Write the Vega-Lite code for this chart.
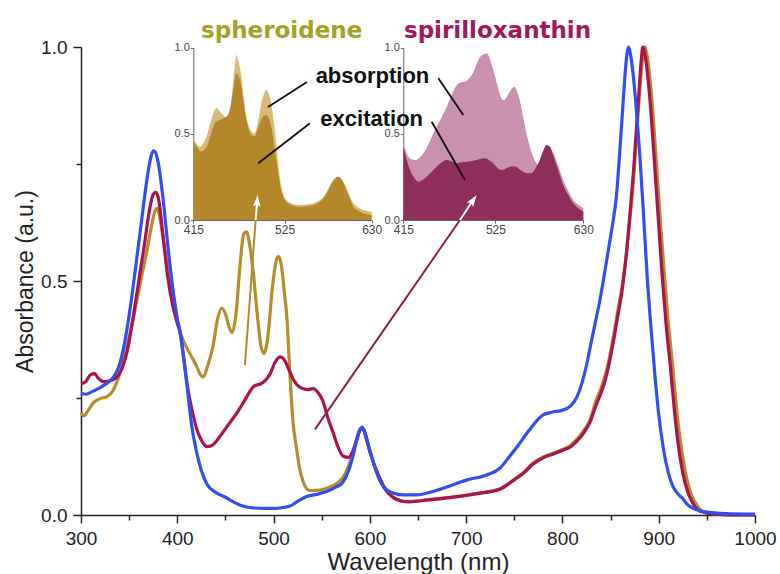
{
  "$schema": "https://vega.github.io/schema/vega-lite/v6.json",
  "width": 674,
  "height": 468,
  "autosize": {"type": "none"},
  "padding": {"left": 81, "top": 47, "right": 25, "bottom": 59},
  "background": "white",
  "config": {
    "view": {"stroke": null},
    "axis": {"labelFont": "Liberation Sans", "titleFont": "Liberation Sans", "titleFontWeight": "normal", "grid": false}
  },
  "datasets": {
    "spectra": [
      {"s":"spheroidene","wl":300,"a":0.22},{"s":"spheroidene","wl":303,"a":0.212},{"s":"spheroidene","wl":307,"a":0.222},{"s":"spheroidene","wl":312,"a":0.238},{"s":"spheroidene","wl":316,"a":0.245},{"s":"spheroidene","wl":322,"a":0.25},{"s":"spheroidene","wl":327,"a":0.253},{"s":"spheroidene","wl":333,"a":0.265},{"s":"spheroidene","wl":340,"a":0.3},{"s":"spheroidene","wl":347,"a":0.355},{"s":"spheroidene","wl":354,"a":0.417},{"s":"spheroidene","wl":361,"a":0.49},{"s":"spheroidene","wl":368,"a":0.56},{"s":"spheroidene","wl":373,"a":0.615},{"s":"spheroidene","wl":377,"a":0.65},{"s":"spheroidene","wl":379,"a":0.655},{"s":"spheroidene","wl":382,"a":0.635},{"s":"spheroidene","wl":385,"a":0.595},{"s":"spheroidene","wl":389,"a":0.545},{"s":"spheroidene","wl":392,"a":0.502},{"s":"spheroidene","wl":397,"a":0.44},{"s":"spheroidene","wl":403,"a":0.39},{"s":"spheroidene","wl":408,"a":0.365},{"s":"spheroidene","wl":413,"a":0.345},{"s":"spheroidene","wl":420,"a":0.318},{"s":"spheroidene","wl":424,"a":0.3},{"s":"spheroidene","wl":427,"a":0.295},{"s":"spheroidene","wl":431,"a":0.315},{"s":"spheroidene","wl":437,"a":0.36},{"s":"spheroidene","wl":442,"a":0.42},{"s":"spheroidene","wl":446,"a":0.442},{"s":"spheroidene","wl":450,"a":0.43},{"s":"spheroidene","wl":454,"a":0.4},{"s":"spheroidene","wl":457,"a":0.39},{"s":"spheroidene","wl":461,"a":0.43},{"s":"spheroidene","wl":465,"a":0.53},{"s":"spheroidene","wl":469,"a":0.6},{"s":"spheroidene","wl":472,"a":0.605},{"s":"spheroidene","wl":475,"a":0.58},{"s":"spheroidene","wl":479,"a":0.517},{"s":"spheroidene","wl":483,"a":0.43},{"s":"spheroidene","wl":487,"a":0.36},{"s":"spheroidene","wl":490,"a":0.345},{"s":"spheroidene","wl":494,"a":0.38},{"s":"spheroidene","wl":499,"a":0.49},{"s":"spheroidene","wl":503,"a":0.545},{"s":"spheroidene","wl":505,"a":0.552},{"s":"spheroidene","wl":508,"a":0.535},{"s":"spheroidene","wl":511,"a":0.48},{"s":"spheroidene","wl":514,"a":0.417},{"s":"spheroidene","wl":517,"a":0.3},{"s":"spheroidene","wl":520,"a":0.203},{"s":"spheroidene","wl":524,"a":0.14},{"s":"spheroidene","wl":527,"a":0.1},{"s":"spheroidene","wl":531,"a":0.07},{"s":"spheroidene","wl":535,"a":0.055},{"s":"spheroidene","wl":540,"a":0.052},{"s":"spheroidene","wl":548,"a":0.053},{"s":"spheroidene","wl":556,"a":0.058},{"s":"spheroidene","wl":566,"a":0.068},{"s":"spheroidene","wl":572,"a":0.08},{"s":"spheroidene","wl":578,"a":0.105},{"s":"spheroidene","wl":584,"a":0.145},{"s":"spheroidene","wl":589,"a":0.18},{"s":"spheroidene","wl":592,"a":0.186},{"s":"spheroidene","wl":595,"a":0.175},{"s":"spheroidene","wl":599,"a":0.145},{"s":"spheroidene","wl":604,"a":0.11},{"s":"spheroidene","wl":610,"a":0.08},{"s":"spheroidene","wl":615,"a":0.06},{"s":"spheroidene","wl":620,"a":0.046},{"s":"spheroidene","wl":625,"a":0.037},{"s":"spheroidene","wl":632,"a":0.031},{"s":"spheroidene","wl":641,"a":0.029},{"s":"spheroidene","wl":660,"a":0.033},{"s":"spheroidene","wl":683,"a":0.038},{"s":"spheroidene","wl":710,"a":0.046},{"s":"spheroidene","wl":735,"a":0.056},{"s":"spheroidene","wl":750,"a":0.076},{"s":"spheroidene","wl":760,"a":0.092},{"s":"spheroidene","wl":769,"a":0.11},{"s":"spheroidene","wl":780,"a":0.124},{"s":"spheroidene","wl":790,"a":0.132},{"s":"spheroidene","wl":800,"a":0.14},{"s":"spheroidene","wl":808,"a":0.148},{"s":"spheroidene","wl":815,"a":0.162},{"s":"spheroidene","wl":822,"a":0.18},{"s":"spheroidene","wl":829,"a":0.205},{"s":"spheroidene","wl":835,"a":0.245},{"s":"spheroidene","wl":840,"a":0.27},{"s":"spheroidene","wl":846,"a":0.31},{"s":"spheroidene","wl":852,"a":0.37},{"s":"spheroidene","wl":857,"a":0.43},{"s":"spheroidene","wl":862,"a":0.49},{"s":"spheroidene","wl":866,"a":0.55},{"s":"spheroidene","wl":870,"a":0.63},{"s":"spheroidene","wl":874,"a":0.72},{"s":"spheroidene","wl":877,"a":0.81},{"s":"spheroidene","wl":880,"a":0.9},{"s":"spheroidene","wl":882,"a":0.95},{"s":"spheroidene","wl":884,"a":0.99},{"s":"spheroidene","wl":885.5,"a":1.0},{"s":"spheroidene","wl":888,"a":0.98},{"s":"spheroidene","wl":891,"a":0.93},{"s":"spheroidene","wl":894,"a":0.86},{"s":"spheroidene","wl":898,"a":0.74},{"s":"spheroidene","wl":902,"a":0.62},{"s":"spheroidene","wl":906,"a":0.51},{"s":"spheroidene","wl":910,"a":0.41},{"s":"spheroidene","wl":914,"a":0.33},{"s":"spheroidene","wl":918,"a":0.24},{"s":"spheroidene","wl":922,"a":0.165},{"s":"spheroidene","wl":927,"a":0.1},{"s":"spheroidene","wl":932,"a":0.055},{"s":"spheroidene","wl":937,"a":0.03},{"s":"spheroidene","wl":942,"a":0.014},{"s":"spheroidene","wl":950,"a":0.005},{"s":"spheroidene","wl":970,"a":0.001},{"s":"spheroidene","wl":1000,"a":0.0},
      {"s":"spirilloxanthin","wl":300,"a":0.28},{"s":"spirilloxanthin","wl":305,"a":0.285},{"s":"spirilloxanthin","wl":310,"a":0.3},{"s":"spirilloxanthin","wl":314,"a":0.302},{"s":"spirilloxanthin","wl":318,"a":0.292},{"s":"spirilloxanthin","wl":323,"a":0.285},{"s":"spirilloxanthin","wl":330,"a":0.287},{"s":"spirilloxanthin","wl":336,"a":0.292},{"s":"spirilloxanthin","wl":342,"a":0.31},{"s":"spirilloxanthin","wl":348,"a":0.35},{"s":"spirilloxanthin","wl":354,"a":0.42},{"s":"spirilloxanthin","wl":360,"a":0.5},{"s":"spirilloxanthin","wl":366,"a":0.58},{"s":"spirilloxanthin","wl":371,"a":0.65},{"s":"spirilloxanthin","wl":375,"a":0.685},{"s":"spirilloxanthin","wl":378,"a":0.69},{"s":"spirilloxanthin","wl":381,"a":0.67},{"s":"spirilloxanthin","wl":385,"a":0.6},{"s":"spirilloxanthin","wl":390,"a":0.51},{"s":"spirilloxanthin","wl":395,"a":0.45},{"s":"spirilloxanthin","wl":400,"a":0.41},{"s":"spirilloxanthin","wl":403,"a":0.389},{"s":"spirilloxanthin","wl":407,"a":0.33},{"s":"spirilloxanthin","wl":411,"a":0.27},{"s":"spirilloxanthin","wl":416,"a":0.218},{"s":"spirilloxanthin","wl":420,"a":0.185},{"s":"spirilloxanthin","wl":425,"a":0.16},{"s":"spirilloxanthin","wl":431,"a":0.146},{"s":"spirilloxanthin","wl":437,"a":0.15},{"s":"spirilloxanthin","wl":444,"a":0.167},{"s":"spirilloxanthin","wl":452,"a":0.19},{"s":"spirilloxanthin","wl":462,"a":0.218},{"s":"spirilloxanthin","wl":470,"a":0.245},{"s":"spirilloxanthin","wl":479,"a":0.274},{"s":"spirilloxanthin","wl":489,"a":0.283},{"s":"spirilloxanthin","wl":496,"a":0.3},{"s":"spirilloxanthin","wl":502,"a":0.328},{"s":"spirilloxanthin","wl":507,"a":0.338},{"s":"spirilloxanthin","wl":511,"a":0.332},{"s":"spirilloxanthin","wl":516,"a":0.31},{"s":"spirilloxanthin","wl":521,"a":0.288},{"s":"spirilloxanthin","wl":528,"a":0.272},{"s":"spirilloxanthin","wl":535,"a":0.268},{"s":"spirilloxanthin","wl":541,"a":0.27},{"s":"spirilloxanthin","wl":546,"a":0.262},{"s":"spirilloxanthin","wl":551,"a":0.245},{"s":"spirilloxanthin","wl":556,"a":0.21},{"s":"spirilloxanthin","wl":562,"a":0.175},{"s":"spirilloxanthin","wl":567,"a":0.145},{"s":"spirilloxanthin","wl":572,"a":0.126},{"s":"spirilloxanthin","wl":578,"a":0.123},{"s":"spirilloxanthin","wl":583,"a":0.14},{"s":"spirilloxanthin","wl":587,"a":0.165},{"s":"spirilloxanthin","wl":590,"a":0.183},{"s":"spirilloxanthin","wl":593,"a":0.185},{"s":"spirilloxanthin","wl":596,"a":0.165},{"s":"spirilloxanthin","wl":600,"a":0.135},{"s":"spirilloxanthin","wl":605,"a":0.105},{"s":"spirilloxanthin","wl":610,"a":0.08},{"s":"spirilloxanthin","wl":615,"a":0.058},{"s":"spirilloxanthin","wl":620,"a":0.045},{"s":"spirilloxanthin","wl":625,"a":0.036},{"s":"spirilloxanthin","wl":632,"a":0.03},{"s":"spirilloxanthin","wl":641,"a":0.028},{"s":"spirilloxanthin","wl":660,"a":0.032},{"s":"spirilloxanthin","wl":683,"a":0.037},{"s":"spirilloxanthin","wl":710,"a":0.045},{"s":"spirilloxanthin","wl":735,"a":0.055},{"s":"spirilloxanthin","wl":750,"a":0.075},{"s":"spirilloxanthin","wl":760,"a":0.09},{"s":"spirilloxanthin","wl":769,"a":0.108},{"s":"spirilloxanthin","wl":780,"a":0.122},{"s":"spirilloxanthin","wl":790,"a":0.13},{"s":"spirilloxanthin","wl":800,"a":0.138},{"s":"spirilloxanthin","wl":808,"a":0.145},{"s":"spirilloxanthin","wl":815,"a":0.158},{"s":"spirilloxanthin","wl":822,"a":0.175},{"s":"spirilloxanthin","wl":829,"a":0.2},{"s":"spirilloxanthin","wl":835,"a":0.235},{"s":"spirilloxanthin","wl":840,"a":0.26},{"s":"spirilloxanthin","wl":846,"a":0.3},{"s":"spirilloxanthin","wl":852,"a":0.36},{"s":"spirilloxanthin","wl":857,"a":0.42},{"s":"spirilloxanthin","wl":862,"a":0.48},{"s":"spirilloxanthin","wl":866,"a":0.55},{"s":"spirilloxanthin","wl":870,"a":0.64},{"s":"spirilloxanthin","wl":874,"a":0.74},{"s":"spirilloxanthin","wl":877,"a":0.83},{"s":"spirilloxanthin","wl":880,"a":0.92},{"s":"spirilloxanthin","wl":882,"a":0.975},{"s":"spirilloxanthin","wl":883.5,"a":1.0},{"s":"spirilloxanthin","wl":886,"a":0.98},{"s":"spirilloxanthin","wl":889,"a":0.93},{"s":"spirilloxanthin","wl":892,"a":0.86},{"s":"spirilloxanthin","wl":896,"a":0.74},{"s":"spirilloxanthin","wl":900,"a":0.62},{"s":"spirilloxanthin","wl":904,"a":0.5},{"s":"spirilloxanthin","wl":908,"a":0.4},{"s":"spirilloxanthin","wl":912,"a":0.32},{"s":"spirilloxanthin","wl":916,"a":0.23},{"s":"spirilloxanthin","wl":920,"a":0.155},{"s":"spirilloxanthin","wl":925,"a":0.09},{"s":"spirilloxanthin","wl":930,"a":0.05},{"s":"spirilloxanthin","wl":935,"a":0.027},{"s":"spirilloxanthin","wl":940,"a":0.012},{"s":"spirilloxanthin","wl":950,"a":0.004},{"s":"spirilloxanthin","wl":970,"a":0.001},{"s":"spirilloxanthin","wl":1000,"a":0.0},
      {"s":"without carotenoid","wl":300,"a":0.26},{"s":"without carotenoid","wl":305,"a":0.258},{"s":"without carotenoid","wl":310,"a":0.262},{"s":"without carotenoid","wl":316,"a":0.268},{"s":"without carotenoid","wl":322,"a":0.275},{"s":"without carotenoid","wl":328,"a":0.283},{"s":"without carotenoid","wl":333,"a":0.293},{"s":"without carotenoid","wl":338,"a":0.31},{"s":"without carotenoid","wl":343,"a":0.345},{"s":"without carotenoid","wl":348,"a":0.4},{"s":"without carotenoid","wl":353,"a":0.47},{"s":"without carotenoid","wl":358,"a":0.55},{"s":"without carotenoid","wl":363,"a":0.63},{"s":"without carotenoid","wl":368,"a":0.71},{"s":"without carotenoid","wl":372,"a":0.76},{"s":"without carotenoid","wl":375,"a":0.778},{"s":"without carotenoid","wl":377,"a":0.776},{"s":"without carotenoid","wl":380,"a":0.755},{"s":"without carotenoid","wl":385,"a":0.68},{"s":"without carotenoid","wl":390,"a":0.58},{"s":"without carotenoid","wl":395,"a":0.49},{"s":"without carotenoid","wl":400,"a":0.42},{"s":"without carotenoid","wl":403,"a":0.39},{"s":"without carotenoid","wl":407,"a":0.33},{"s":"without carotenoid","wl":411,"a":0.26},{"s":"without carotenoid","wl":415,"a":0.19},{"s":"without carotenoid","wl":420,"a":0.135},{"s":"without carotenoid","wl":425,"a":0.095},{"s":"without carotenoid","wl":431,"a":0.065},{"s":"without carotenoid","wl":440,"a":0.048},{"s":"without carotenoid","wl":450,"a":0.038},{"s":"without carotenoid","wl":460,"a":0.026},{"s":"without carotenoid","wl":470,"a":0.018},{"s":"without carotenoid","wl":480,"a":0.015},{"s":"without carotenoid","wl":490,"a":0.014},{"s":"without carotenoid","wl":500,"a":0.014},{"s":"without carotenoid","wl":510,"a":0.016},{"s":"without carotenoid","wl":518,"a":0.02},{"s":"without carotenoid","wl":527,"a":0.032},{"s":"without carotenoid","wl":535,"a":0.04},{"s":"without carotenoid","wl":545,"a":0.044},{"s":"without carotenoid","wl":555,"a":0.05},{"s":"without carotenoid","wl":565,"a":0.06},{"s":"without carotenoid","wl":572,"a":0.07},{"s":"without carotenoid","wl":578,"a":0.095},{"s":"without carotenoid","wl":583,"a":0.13},{"s":"without carotenoid","wl":587,"a":0.165},{"s":"without carotenoid","wl":590,"a":0.183},{"s":"without carotenoid","wl":592,"a":0.188},{"s":"without carotenoid","wl":595,"a":0.175},{"s":"without carotenoid","wl":599,"a":0.145},{"s":"without carotenoid","wl":604,"a":0.11},{"s":"without carotenoid","wl":609,"a":0.08},{"s":"without carotenoid","wl":615,"a":0.058},{"s":"without carotenoid","wl":624,"a":0.047},{"s":"without carotenoid","wl":635,"a":0.043},{"s":"without carotenoid","wl":649,"a":0.043},{"s":"without carotenoid","wl":665,"a":0.05},{"s":"without carotenoid","wl":680,"a":0.06},{"s":"without carotenoid","wl":701,"a":0.075},{"s":"without carotenoid","wl":722,"a":0.086},{"s":"without carotenoid","wl":735,"a":0.1},{"s":"without carotenoid","wl":745,"a":0.125},{"s":"without carotenoid","wl":753,"a":0.146},{"s":"without carotenoid","wl":765,"a":0.18},{"s":"without carotenoid","wl":780,"a":0.214},{"s":"without carotenoid","wl":790,"a":0.22},{"s":"without carotenoid","wl":800,"a":0.224},{"s":"without carotenoid","wl":808,"a":0.232},{"s":"without carotenoid","wl":815,"a":0.252},{"s":"without carotenoid","wl":820,"a":0.28},{"s":"without carotenoid","wl":825,"a":0.32},{"s":"without carotenoid","wl":829,"a":0.36},{"s":"without carotenoid","wl":834,"a":0.41},{"s":"without carotenoid","wl":839,"a":0.46},{"s":"without carotenoid","wl":844,"a":0.52},{"s":"without carotenoid","wl":848,"a":0.57},{"s":"without carotenoid","wl":852,"a":0.62},{"s":"without carotenoid","wl":856,"a":0.68},{"s":"without carotenoid","wl":859,"a":0.76},{"s":"without carotenoid","wl":862,"a":0.85},{"s":"without carotenoid","wl":865,"a":0.94},{"s":"without carotenoid","wl":867,"a":0.985},{"s":"without carotenoid","wl":868.5,"a":1.0},{"s":"without carotenoid","wl":871,"a":0.98},{"s":"without carotenoid","wl":874,"a":0.93},{"s":"without carotenoid","wl":877,"a":0.86},{"s":"without carotenoid","wl":880,"a":0.78},{"s":"without carotenoid","wl":884,"a":0.65},{"s":"without carotenoid","wl":888,"a":0.51},{"s":"without carotenoid","wl":892,"a":0.4},{"s":"without carotenoid","wl":896,"a":0.3},{"s":"without carotenoid","wl":900,"a":0.215},{"s":"without carotenoid","wl":905,"a":0.14},{"s":"without carotenoid","wl":910,"a":0.09},{"s":"without carotenoid","wl":915,"a":0.06},{"s":"without carotenoid","wl":920,"a":0.045},{"s":"without carotenoid","wl":925,"a":0.035},{"s":"without carotenoid","wl":930,"a":0.022},{"s":"without carotenoid","wl":938,"a":0.012},{"s":"without carotenoid","wl":950,"a":0.006},{"s":"without carotenoid","wl":970,"a":0.003},{"s":"without carotenoid","wl":1000,"a":0.002}
    ],
    "inset1": [
      {"k":"absorption","wl":415,"v":0.474},{"k":"absorption","wl":419,"v":0.44},{"k":"absorption","wl":423,"v":0.425},{"k":"absorption","wl":427,"v":0.445},{"k":"absorption","wl":431,"v":0.484},{"k":"absorption","wl":436,"v":0.57},{"k":"absorption","wl":440,"v":0.63},{"k":"absorption","wl":443,"v":0.648},{"k":"absorption","wl":447,"v":0.63},{"k":"absorption","wl":451,"v":0.609},{"k":"absorption","wl":455,"v":0.59},{"k":"absorption","wl":458,"v":0.6},{"k":"absorption","wl":461,"v":0.696},{"k":"absorption","wl":464,"v":0.85},{"k":"absorption","wl":467,"v":0.957},{"k":"absorption","wl":469,"v":0.93},{"k":"absorption","wl":473,"v":0.83},{"k":"absorption","wl":476,"v":0.7},{"k":"absorption","wl":479,"v":0.6},{"k":"absorption","wl":483,"v":0.53},{"k":"absorption","wl":486,"v":0.51},{"k":"absorption","wl":489,"v":0.503},{"k":"absorption","wl":493,"v":0.57},{"k":"absorption","wl":497,"v":0.677},{"k":"absorption","wl":500,"v":0.73},{"k":"absorption","wl":503,"v":0.754},{"k":"absorption","wl":506,"v":0.73},{"k":"absorption","wl":509,"v":0.677},{"k":"absorption","wl":512,"v":0.57},{"k":"absorption","wl":515,"v":0.445},{"k":"absorption","wl":518,"v":0.3},{"k":"absorption","wl":521,"v":0.193},{"k":"absorption","wl":524,"v":0.14},{"k":"absorption","wl":527,"v":0.116},{"k":"absorption","wl":532,"v":0.098},{"k":"absorption","wl":538,"v":0.09},{"k":"absorption","wl":544,"v":0.087},{"k":"absorption","wl":552,"v":0.09},{"k":"absorption","wl":560,"v":0.097},{"k":"absorption","wl":566,"v":0.11},{"k":"absorption","wl":572,"v":0.135},{"k":"absorption","wl":577,"v":0.175},{"k":"absorption","wl":582,"v":0.222},{"k":"absorption","wl":586,"v":0.245},{"k":"absorption","wl":590,"v":0.251},{"k":"absorption","wl":594,"v":0.235},{"k":"absorption","wl":598,"v":0.203},{"k":"absorption","wl":603,"v":0.145},{"k":"absorption","wl":608,"v":0.097},{"k":"absorption","wl":614,"v":0.072},{"k":"absorption","wl":620,"v":0.058},{"k":"absorption","wl":625,"v":0.052},{"k":"absorption","wl":630,"v":0.048},
      {"k":"excitation","wl":415,"v":0.464},{"k":"excitation","wl":420,"v":0.42},{"k":"excitation","wl":425,"v":0.397},{"k":"excitation","wl":429,"v":0.41},{"k":"excitation","wl":433,"v":0.445},{"k":"excitation","wl":437,"v":0.51},{"k":"excitation","wl":441,"v":0.561},{"k":"excitation","wl":444,"v":0.575},{"k":"excitation","wl":447,"v":0.58},{"k":"excitation","wl":451,"v":0.59},{"k":"excitation","wl":455,"v":0.6},{"k":"excitation","wl":459,"v":0.64},{"k":"excitation","wl":463,"v":0.75},{"k":"excitation","wl":467,"v":0.851},{"k":"excitation","wl":470,"v":0.83},{"k":"excitation","wl":473,"v":0.774},{"k":"excitation","wl":476,"v":0.67},{"k":"excitation","wl":479,"v":0.58},{"k":"excitation","wl":483,"v":0.51},{"k":"excitation","wl":486,"v":0.49},{"k":"excitation","wl":489,"v":0.484},{"k":"excitation","wl":492,"v":0.52},{"k":"excitation","wl":495,"v":0.561},{"k":"excitation","wl":499,"v":0.6},{"k":"excitation","wl":502.6,"v":0.609},{"k":"excitation","wl":506,"v":0.59},{"k":"excitation","wl":509,"v":0.542},{"k":"excitation","wl":512,"v":0.45},{"k":"excitation","wl":515,"v":0.348},{"k":"excitation","wl":518,"v":0.25},{"k":"excitation","wl":521,"v":0.174},{"k":"excitation","wl":524,"v":0.13},{"k":"excitation","wl":527,"v":0.106},{"k":"excitation","wl":532,"v":0.088},{"k":"excitation","wl":538,"v":0.08},{"k":"excitation","wl":544,"v":0.077},{"k":"excitation","wl":552,"v":0.08},{"k":"excitation","wl":560,"v":0.087},{"k":"excitation","wl":566,"v":0.1},{"k":"excitation","wl":572,"v":0.126},{"k":"excitation","wl":577,"v":0.165},{"k":"excitation","wl":582,"v":0.213},{"k":"excitation","wl":586,"v":0.24},{"k":"excitation","wl":590,"v":0.251},{"k":"excitation","wl":594,"v":0.23},{"k":"excitation","wl":598,"v":0.193},{"k":"excitation","wl":603,"v":0.13},{"k":"excitation","wl":608,"v":0.077},{"k":"excitation","wl":614,"v":0.052},{"k":"excitation","wl":620,"v":0.039},{"k":"excitation","wl":625,"v":0.032},{"k":"excitation","wl":630,"v":0.029}
    ],
    "inset2": [
      {"k":"absorption","wl":415,"v":0.445},{"k":"absorption","wl":418,"v":0.4},{"k":"absorption","wl":421,"v":0.368},{"k":"absorption","wl":425,"v":0.352},{"k":"absorption","wl":429,"v":0.348},{"k":"absorption","wl":434,"v":0.36},{"k":"absorption","wl":439,"v":0.387},{"k":"absorption","wl":445,"v":0.44},{"k":"absorption","wl":451,"v":0.503},{"k":"absorption","wl":459,"v":0.58},{"k":"absorption","wl":467,"v":0.658},{"k":"absorption","wl":473,"v":0.73},{"k":"absorption","wl":479,"v":0.783},{"k":"absorption","wl":484,"v":0.8},{"k":"absorption","wl":489,"v":0.803},{"k":"absorption","wl":494,"v":0.825},{"k":"absorption","wl":499,"v":0.861},{"k":"absorption","wl":503,"v":0.91},{"k":"absorption","wl":507,"v":0.948},{"k":"absorption","wl":511,"v":0.962},{"k":"absorption","wl":515,"v":0.967},{"k":"absorption","wl":518,"v":0.94},{"k":"absorption","wl":522.5,"v":0.87},{"k":"absorption","wl":527,"v":0.79},{"k":"absorption","wl":531,"v":0.72},{"k":"absorption","wl":534,"v":0.696},{"k":"absorption","wl":538,"v":0.71},{"k":"absorption","wl":542,"v":0.745},{"k":"absorption","wl":548,"v":0.774},{"k":"absorption","wl":551,"v":0.745},{"k":"absorption","wl":554,"v":0.696},{"k":"absorption","wl":558,"v":0.6},{"k":"absorption","wl":562,"v":0.503},{"k":"absorption","wl":566,"v":0.43},{"k":"absorption","wl":570,"v":0.368},{"k":"absorption","wl":574,"v":0.33},{"k":"absorption","wl":578,"v":0.309},{"k":"absorption","wl":582,"v":0.34},{"k":"absorption","wl":586,"v":0.41},{"k":"absorption","wl":590,"v":0.425},{"k":"absorption","wl":593,"v":0.4},{"k":"absorption","wl":596,"v":0.368},{"k":"absorption","wl":601,"v":0.3},{"k":"absorption","wl":606,"v":0.232},{"k":"absorption","wl":612,"v":0.17},{"k":"absorption","wl":618,"v":0.116},{"k":"absorption","wl":624,"v":0.088},{"k":"absorption","wl":630,"v":0.068},
      {"k":"excitation","wl":415,"v":0.426},{"k":"excitation","wl":419,"v":0.35},{"k":"excitation","wl":423,"v":0.29},{"k":"excitation","wl":428,"v":0.245},{"k":"excitation","wl":433,"v":0.222},{"k":"excitation","wl":438,"v":0.232},{"k":"excitation","wl":443,"v":0.251},{"k":"excitation","wl":449,"v":0.28},{"k":"excitation","wl":455,"v":0.309},{"k":"excitation","wl":461,"v":0.335},{"k":"excitation","wl":467,"v":0.348},{"k":"excitation","wl":473,"v":0.34},{"k":"excitation","wl":479,"v":0.329},{"k":"excitation","wl":485,"v":0.335},{"k":"excitation","wl":491,"v":0.338},{"k":"excitation","wl":497,"v":0.342},{"k":"excitation","wl":503,"v":0.348},{"k":"excitation","wl":508,"v":0.355},{"k":"excitation","wl":513,"v":0.358},{"k":"excitation","wl":518,"v":0.345},{"k":"excitation","wl":522.5,"v":0.329},{"k":"excitation","wl":527,"v":0.305},{"k":"excitation","wl":532,"v":0.29},{"k":"excitation","wl":537,"v":0.298},{"k":"excitation","wl":542,"v":0.309},{"k":"excitation","wl":546,"v":0.312},{"k":"excitation","wl":550,"v":0.309},{"k":"excitation","wl":554,"v":0.293},{"k":"excitation","wl":558,"v":0.28},{"k":"excitation","wl":563,"v":0.272},{"k":"excitation","wl":568,"v":0.271},{"k":"excitation","wl":573,"v":0.3},{"k":"excitation","wl":578,"v":0.348},{"k":"excitation","wl":582,"v":0.4},{"k":"excitation","wl":586,"v":0.435},{"k":"excitation","wl":590,"v":0.426},{"k":"excitation","wl":593,"v":0.39},{"k":"excitation","wl":596,"v":0.348},{"k":"excitation","wl":601,"v":0.275},{"k":"excitation","wl":606,"v":0.203},{"k":"excitation","wl":612,"v":0.145},{"k":"excitation","wl":618,"v":0.097},{"k":"excitation","wl":624,"v":0.068},{"k":"excitation","wl":630,"v":0.048}
    ],
    "arrows": [
      {"id":"spheroidene","wl":470.3,"a":0.3205,"wl2":481.4,"a2":0.6303},
      {"id":"spirilloxanthin","wl":543.0,"a":0.1831,"wl2":693.6,"a2":0.6303}
    ],
    "arrowTips": [
      {"id":"spheroidene","wl":481.4,"a":0.6303,"wl2":482.9,"a2":0.669},
      {"id":"spirilloxanthin","wl":693.6,"a":0.6303,"wl2":706.8,"a2":0.6714}
    ],
    "leaders": [
      {"wl":534.7,"a":0.9252,"wl2":494.2,"a2":0.8718},
      {"wl":671.1,"a":0.9331,"wl2":697.0,"a2":0.8547},
      {"wl":537.8,"a":0.837,"wl2":484.1,"a2":0.7515},
      {"wl":664.2,"a":0.8404,"wl2":698.8,"a2":0.7158}
    ],
    "labels": [
      {"t":"spheroidene","wl":508.4,"a":1.0186},
      {"t":"spirilloxanthin","wl":732.6,"a":1.0186},
      {"t":"absorption","wl":602.7,"a":0.9225},
      {"t":"excitation","wl":601.9,"a":0.8312}
    ]
  },
  "resolve": {"scale": {"x": "independent", "y": "independent"}},
  "layer": [
    {
      "data": {"name": "inset1"},
      "layer": [
        {
          "transform": [{"filter": "datum.k === 'absorption'"}],
          "mark": {"type": "area", "orient": "vertical", "interpolate": "monotone", "color": "#d8b97a"},
          "encoding": {
            "x": {"field": "wl", "type": "quantitative", "scale": {"domain": [415, 630], "range": [112.3, 290.7], "nice": false, "zero": false},
              "axis": {"orient": "bottom", "values": [415, 525, 630], "offset": -295, "title": null, "labelFontSize": 12, "labelColor": "#444", "tickSize": 3, "labelPadding": 1, "domainColor": "#666", "tickColor": "#666", "labelFlush": false}},
            "y": {"field": "v", "type": "quantitative", "scale": {"domain": [0, 1], "range": [173, 0.7], "nice": false},
              "axis": {"orient": "left", "values": [0, 0.5, 1], "format": ".1f", "offset": -112.3, "title": null, "labelFontSize": 11, "labelColor": "#444", "tickSize": 3, "labelPadding": 1, "domainColor": "#666", "tickColor": "#666"}}
          }
        },
        {
          "transform": [{"filter": "datum.k === 'excitation'"}],
          "mark": {"type": "area", "orient": "vertical", "interpolate": "monotone", "color": "#b5872b"},
          "encoding": {
            "x": {"field": "wl", "type": "quantitative"},
            "y": {"field": "v", "type": "quantitative"}
          }
        }
      ]
    },
    {
      "data": {"name": "inset2"},
      "layer": [
        {
          "transform": [{"filter": "datum.k === 'absorption'"}],
          "mark": {"type": "area", "orient": "vertical", "interpolate": "monotone", "color": "#c990b0"},
          "encoding": {
            "x": {"field": "wl", "type": "quantitative", "scale": {"domain": [415, 630], "range": [322.3, 502.3], "nice": false, "zero": false},
              "axis": {"orient": "bottom", "values": [415, 525, 630], "offset": -295, "title": null, "labelFontSize": 12, "labelColor": "#444", "tickSize": 3, "labelPadding": 1, "domainColor": "#666", "tickColor": "#666", "labelFlush": false}},
            "y": {"field": "v", "type": "quantitative", "scale": {"domain": [0, 1], "range": [173, 0.7], "nice": false},
              "axis": {"orient": "left", "values": [0, 0.5, 1], "format": ".1f", "offset": -322.3, "title": null, "labelFontSize": 11, "labelColor": "#444", "tickSize": 3, "labelPadding": 1, "domainColor": "#666", "tickColor": "#666"}}
          }
        },
        {
          "transform": [{"filter": "datum.k === 'excitation'"}],
          "mark": {"type": "area", "orient": "vertical", "interpolate": "monotone", "color": "#8d2e5d"},
          "encoding": {
            "x": {"field": "wl", "type": "quantitative"},
            "y": {"field": "v", "type": "quantitative"}
          }
        }
      ]
    },
    {
      "resolve": {"scale": {"color": "independent"}},
      "layer": [
        {
          "data": {"name": "spectra"},
          "mark": {"type": "line", "strokeWidth": 3.2, "interpolate": "monotone"},
          "encoding": {
            "x": {"field": "wl", "type": "quantitative", "scale": {"domain": [300, 1000], "nice": false, "zero": false},
              "axis": {"orient": "bottom", "values": [300,350,400,450,500,550,600,650,700,750,800,850,900,950,1000], "format": "d",
                "labelExpr": "datum.value % 100 === 0 ? datum.label : ''",
                "tickSize": {"condition": {"test": "datum.value % 100 === 0", "value": 8}, "value": 5},
                "labelPadding": 6, "labelFontSize": 19, "labelColor": "#222", "labelFlush": false,
                "domainColor": "#222", "tickColor": "#222", "domainWidth": 1.5, "tickWidth": 1.5,
                "title": "Wavelength (nm)", "titleFontSize": 24, "titleColor": "#222", "titlePadding": 2}},
            "y": {"field": "a", "type": "quantitative", "scale": {"domain": [0, 1], "nice": false},
              "axis": {"orient": "left", "values": [0, 0.25, 0.5, 0.75, 1], "format": ".1f",
                "labelExpr": "(datum.value * 4) % 2 === 1 ? '' : datum.label",
                "tickSize": {"condition": {"test": "(datum.value * 4) % 2 === 1", "value": 5}, "value": 8},
                "labelPadding": 6, "labelFontSize": 19, "labelColor": "#222",
                "domainColor": "#222", "tickColor": "#222", "domainWidth": 1.5, "tickWidth": 1.5,
                "title": "Absorbance (a.u.)", "titleFontSize": 23, "titleColor": "#222", "titlePadding": 3}},
            "color": {"field": "s", "type": "nominal", "legend": null,
              "scale": {"domain": ["spheroidene", "spirilloxanthin", "without carotenoid"], "range": ["#b68d2c", "#ab124e", "#2f4ff2"]}}
          }
        },
        {
          "data": {"name": "arrows"},
          "mark": {"type": "rule", "strokeWidth": 2},
          "encoding": {
            "x": {"field": "wl", "type": "quantitative"},
            "y": {"field": "a", "type": "quantitative"},
            "x2": {"field": "wl2"},
            "y2": {"field": "a2"},
            "color": {"field": "id", "type": "nominal", "legend": null,
              "scale": {"domain": ["spheroidene", "spirilloxanthin"], "range": ["#b08b2e", "#8e1c50"]}}
          }
        },
        {
          "data": {"name": "arrowTips"},
          "mark": {"type": "rule", "strokeWidth": 2, "color": "white"},
          "encoding": {
            "x": {"field": "wl", "type": "quantitative"},
            "y": {"field": "a", "type": "quantitative"},
            "x2": {"field": "wl2"},
            "y2": {"field": "a2"}
          }
        },
        {
          "data": {"name": "arrowTips"},
          "mark": {"type": "point", "filled": true, "opacity": 1, "color": "white", "size": 196, "shape": "M0,-1L0.55,0.7L0,0.35L-0.55,0.7Z"},
          "encoding": {
            "x": {"field": "wl2", "type": "quantitative"},
            "y": {"field": "a2", "type": "quantitative"},
            "angle": {"field": "id", "type": "nominal", "legend": null, "scale": {"domain": ["spheroidene", "spirilloxanthin"], "range": [4.2, 34.6]}}
          }
        },
        {
          "data": {"name": "leaders"},
          "mark": {"type": "rule", "strokeWidth": 1.8, "color": "#111"},
          "encoding": {
            "x": {"field": "wl", "type": "quantitative"},
            "y": {"field": "a", "type": "quantitative"},
            "x2": {"field": "wl2"},
            "y2": {"field": "a2"}
          }
        },
        {
          "data": {"name": "labels"},
          "transform": [{"filter": "datum.t === 'spheroidene' || datum.t === 'spirilloxanthin'"}],
          "mark": {"type": "text", "font": "DejaVu Sans", "fontWeight": "bold", "fontSize": 23, "align": "center", "baseline": "alphabetic"},
          "encoding": {
            "x": {"field": "wl", "type": "quantitative"},
            "y": {"field": "a", "type": "quantitative"},
            "text": {"field": "t"},
            "color": {"field": "t", "type": "nominal", "legend": null,
              "scale": {"domain": ["spheroidene", "spirilloxanthin"], "range": ["#a6a026", "#a3165c"]}}
          }
        },
        {
          "data": {"name": "labels"},
          "transform": [{"filter": "datum.t === 'absorption' || datum.t === 'excitation'"}],
          "mark": {"type": "text", "font": "Liberation Sans", "fontWeight": "bold", "fontSize": 22, "align": "center", "baseline": "alphabetic", "color": "#111"},
          "encoding": {
            "x": {"field": "wl", "type": "quantitative"},
            "y": {"field": "a", "type": "quantitative"},
            "text": {"field": "t"}
          }
        }
      ]
    }
  ]
}
